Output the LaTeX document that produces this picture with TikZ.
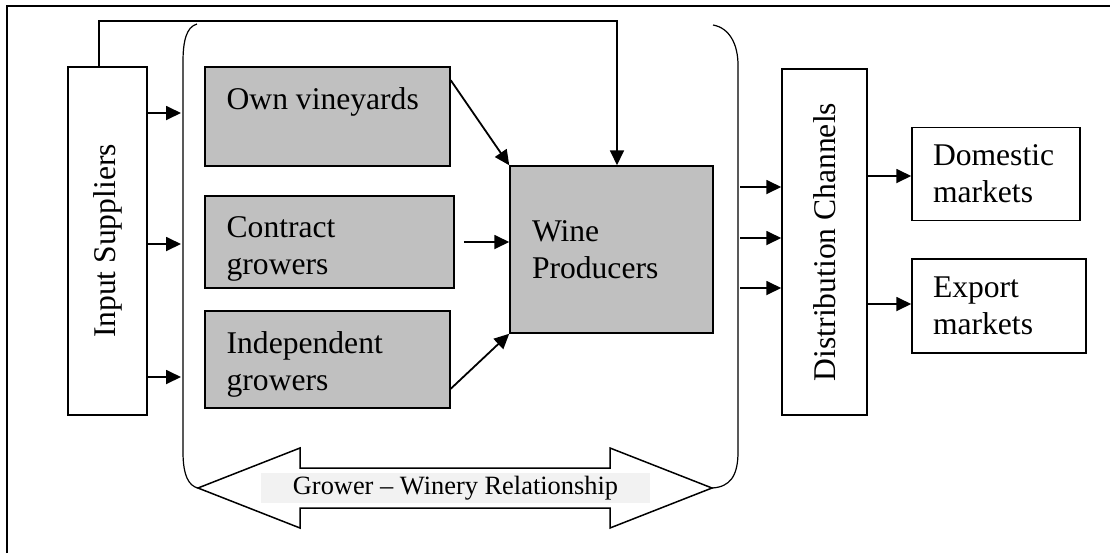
\documentclass[tikz,border=0pt]{standalone}
\usepackage{fontspec}
\setmainfont{Liberation Serif}
\usetikzlibrary{positioning, arrows.meta}
\definecolor{boxgray}{RGB}{192,192,192}
\definecolor{bandgray}{RGB}{242,242,242}
\newcommand{\stdarrow}{-{Triangle[length=7.5pt,width=7pt]}}
\newcommand{\boxfont}{\fontsize{15.8}{18.5}\selectfont}

\begin{document}
\begin{tikzpicture}[x=0.5pt, y=-0.5pt, font=\boxfont,
    box/.style={shape=rectangle, draw, line width=0.75pt, inner sep=0pt},
    greybox/.style={box, fill=boxgray},
    toptext/.style={anchor=north west, align=left, inner sep=0pt, xshift=11pt, yshift=-10.5pt},
    link/.style={line width=0.9pt}]
        \useasboundingbox (0,0) rectangle (1110,553);
        \draw[line width=1pt] (7,553) -- (7,6) -- (1110,6);

        % bracket round the growers
        \coordinate (bl) at (181,0);
        \coordinate (br) at (740,0);
        \draw[line width=0.6pt] (197,24) .. controls (186,27) and (183,42) .. (183,62)
            -- (183,452) .. controls (183,476) and (189,486) .. (198,488);
        \draw[line width=0.6pt] (713,25) .. controls (730,28) and (738,45) .. (738,65)
            -- (738,452) .. controls (738,476) and (730,487) .. (712,488);
        \draw[line width=0.75pt, fill=white] (198,488) -- (300,448) -- (300,468) -- (610,468)
            -- (610,448) -- (712,488) -- (610,528) -- (610,508) -- (300,508) -- (300,528) -- cycle;
        \node[fill=bandgray, minimum width=194.5pt, minimum height=15pt, inner sep=0pt,
            font=\fontsize{13.2}{15}\selectfont] (rel) at (455.5,488) {Grower -- Winery Relationship};

        \node[box, minimum width=39.5pt, minimum height=174pt] (isup) at (107.5,241)
            {\rotatebox{90}{Input Suppliers}};
        \node[greybox, minimum width=122.5pt, minimum height=49.5pt,
            label={[toptext]north west:Own vineyards}] (own) at (327.5,116.5) {};
        \node[greybox, minimum width=124.5pt, minimum height=46pt,
            label={[toptext]north west:{Contract\\growers}}] (contract) at (329.5,242) {};
        \node[greybox, minimum width=122.5pt, minimum height=48.5pt,
            label={[toptext]north west:{Independent\\growers}}] (indep) at (327.5,359.5) {};
        \node[greybox, minimum height=83.5pt, text width=79.5pt, align=left, inner xsep=11pt]
            (wine) at (611.5,249.5) {Wine\\Producers};
        \node[box, minimum width=42.5pt, minimum height=173pt] (dist) at (824.5,242)
            {\rotatebox{90}{Distribution Channels}};
        \node[box, minimum height=46.5pt, text width=63pt, align=left, inner xsep=10.5pt]
            (dom) at (996,174) {Domestic\\markets};
        \node[box, minimum height=47pt, text width=66pt, align=left, inner xsep=10.5pt]
            (exp) at (999,306) {Export\\markets};

        \foreach \y in {113,244,377}
            \draw[\stdarrow, link] (isup.east |- 0,\y) -- (bl |- 0,\y);
        \foreach \y in {187,238,288}
            \draw[\stdarrow, link] (br |- 0,\y) -- (dist.west |- 0,\y);
        \draw[\stdarrow, link] (dist.east |- 0,176) -- (dom.west |- 0,176);
        \draw[\stdarrow, link] (dist.east |- 0,304) -- (exp.west |- 0,304);
        \draw[\stdarrow, link] ([yshift=-7pt]own.north east) -- (wine.north west);
        \draw[\stdarrow, link] ([xshift=4.5pt]contract.east) -- (wine.west |- contract.east);
        \draw[\stdarrow, link] ([yshift=10pt]indep.south east) -- (wine.south west);
        \draw[\stdarrow, link] ([xshift=-4.25pt]isup.north) -- ++(0,-45)
            -| ([xshift=2.75pt]wine.north);
    \end{tikzpicture}
\end{document}
